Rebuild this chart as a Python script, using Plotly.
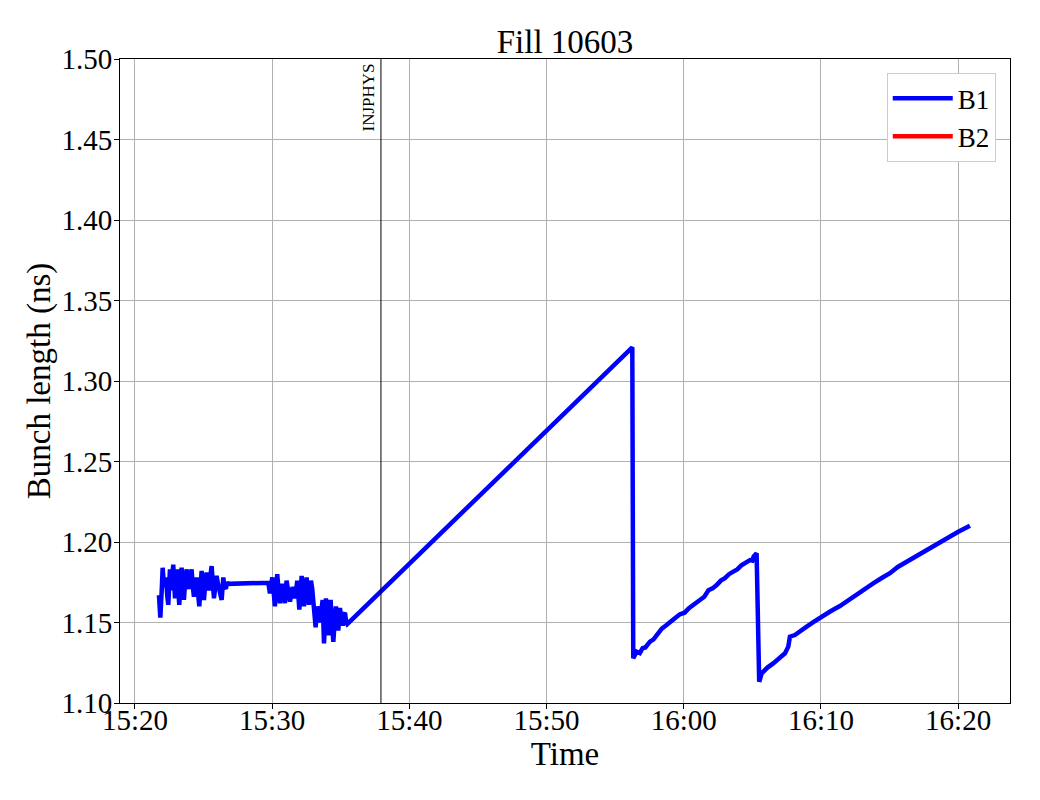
import pandas as pd
import plotly.graph_objects as go

# ---- data: minutes after 15:00 and bunch length (ns) ----
b1_minutes = [
    21.75, 21.85, 21.95, 22.02, 22.12, 22.26, 22.36, 22.43, 22.55, 22.66,
    22.79, 22.92, 23.00, 23.09, 23.16, 23.23, 23.40, 23.48, 23.57, 23.66,
    23.77, 23.86, 23.94, 24.03, 24.13, 24.22, 24.30, 24.40, 24.49, 24.60,
    24.69, 24.78, 24.86, 24.95, 25.03, 25.12, 25.22, 25.30, 25.39, 25.48,
    25.59, 25.68, 25.76, 25.85, 25.95, 26.05, 26.15, 26.25, 26.32, 26.44,
    26.53, 26.63, 26.72, 26.80,
    29.72, 29.84, 30.01, 30.10, 30.20, 30.30, 30.37, 30.47, 30.57, 30.66,
    30.76, 30.85, 30.93, 31.05, 31.18, 31.30, 31.40, 31.49, 31.58, 31.66,
    31.75, 31.83, 31.90, 31.98, 32.06, 32.15, 32.23, 32.32, 32.42, 32.51,
    32.60, 32.68, 32.76, 32.83, 32.92, 33.00, 33.08, 33.17, 33.29, 33.38,
    33.48, 33.58, 33.68, 33.78, 33.85, 33.92, 34.00, 34.09, 34.18, 34.26,
    34.36, 34.46, 34.55, 34.65, 34.74, 34.82, 34.94, 35.04, 35.14, 35.22,
    35.31, 35.40, 35.47,
    56.25, 56.32, 56.45, 56.56, 56.80, 57.00, 57.20, 57.54, 57.80, 58.10,
    58.40, 58.75, 59.10, 59.40, 59.70, 60.06, 60.40, 60.80, 61.18, 61.50,
    61.80, 62.10, 62.40, 62.70, 63.00, 63.30, 63.61, 63.90, 64.20, 64.50,
    64.83, 65.00, 65.10, 65.31,
    65.50, 65.68, 66.10, 66.52, 67.00, 67.38, 67.62, 67.74, 68.10, 68.50,
    68.96, 69.50, 70.05, 70.70, 71.38, 72.00, 72.60, 73.20, 73.81, 74.40,
    75.03, 75.60, 76.25, 76.90, 77.46, 78.00, 78.67, 79.30, 80.01, 80.86,
]
b1_length = [
    1.167, 1.153, 1.170, 1.184, 1.172, 1.178, 1.166, 1.161, 1.183, 1.170,
    1.186, 1.165, 1.176, 1.183, 1.170, 1.161, 1.184, 1.172, 1.164, 1.176,
    1.183, 1.173, 1.171, 1.178, 1.183, 1.172, 1.166, 1.174, 1.178, 1.168,
    1.160, 1.172, 1.182, 1.172, 1.164, 1.174, 1.181, 1.175, 1.170, 1.178,
    1.185, 1.174, 1.165, 1.172, 1.179, 1.174, 1.170, 1.166, 1.164, 1.178,
    1.172, 1.171, 1.175, 1.174,
    1.1747, 1.168, 1.178, 1.170, 1.160, 1.172, 1.180, 1.170, 1.162, 1.170,
    1.174, 1.168, 1.162, 1.176, 1.170, 1.163, 1.168, 1.172, 1.170, 1.165,
    1.170, 1.176, 1.168, 1.158, 1.168, 1.179, 1.170, 1.160, 1.170, 1.178,
    1.170, 1.161, 1.170, 1.176, 1.171, 1.165, 1.158, 1.147, 1.160, 1.153,
    1.150, 1.157, 1.164, 1.137, 1.150, 1.165, 1.155, 1.142, 1.155, 1.164,
    1.150, 1.138, 1.150, 1.160, 1.152, 1.145, 1.159, 1.152, 1.148, 1.155,
    1.156, 1.150, 1.149,
    1.3209, 1.1278, 1.1300, 1.1319, 1.1310, 1.1340, 1.1345, 1.1381, 1.1395, 1.1430,
    1.1462, 1.1484, 1.1512, 1.1530, 1.1550, 1.1561, 1.1590, 1.1615, 1.1640, 1.1660,
    1.1700, 1.1712, 1.1733, 1.1760, 1.1775, 1.1800, 1.1816, 1.1830, 1.1855, 1.1870,
    1.1888, 1.1885, 1.1910, 1.1930,
    1.1132, 1.1184, 1.1220, 1.1246, 1.1280, 1.1309, 1.1350, 1.1412, 1.1422, 1.1450,
    1.1474, 1.1505, 1.1536, 1.1570, 1.1602, 1.1640, 1.1671, 1.1708, 1.1743, 1.1775,
    1.1806, 1.1845, 1.1878, 1.1912, 1.1940, 1.1965, 1.2002, 1.2030, 1.2064, 1.2101,
]
# B2 has no data in this fill (legend entry only)
b2_minutes = [None]
b2_length = [None]

injphys_minute = 37.93
x_range_minutes = [18.91, 83.78]
y_range = [1.10, 1.50]
y_ticks = [1.10, 1.15, 1.20, 1.25, 1.30, 1.35, 1.40, 1.45, 1.50]

base = pd.Timestamp("2025-05-10 15:00:00")


def to_time(mins):
    return [None if m is None else base + pd.to_timedelta(m, unit="min") for m in mins]


FONT = "Liberation Serif, Times New Roman, serif"

fig = go.Figure()
fig.add_trace(go.Scatter(x=to_time(b1_minutes), y=b1_length, mode="lines",
                         name="B1", line=dict(color="#0000ff", width=4.5)))
fig.add_trace(go.Scatter(x=to_time(b2_minutes), y=b2_length, mode="lines",
                         name="B2", line=dict(color="#ff0000", width=4.5)))

inj_t = to_time([injphys_minute])[0]
fig.add_shape(type="line", x0=inj_t, x1=inj_t, xref="x", y0=0, y1=1, yref="paper",
              line=dict(color="black", width=1))
fig.add_annotation(x=inj_t, xref="x", y=1, yref="paper", text="INJPHYS",
                   textangle=-90, showarrow=False, xanchor="right", yanchor="top",
                   xshift=-1, yshift=-2,
                   font=dict(family=FONT, size=17, color="black"))

axis_common = dict(showline=True, mirror=True, linecolor="black", linewidth=1,
                   ticks="outside", ticklen=5, tickcolor="black",
                   showgrid=True, gridcolor="#b0b0b0", gridwidth=1, zeroline=False,
                   automargin=False,
                   tickfont=dict(family=FONT, size=29, color="black"))

# page body adds an 8px margin, so the figure is 1024x784 inside the 1040x800 window
fig.update_layout(
    width=1024, height=784,
    margin=dict(l=112, r=22, t=51, b=89, autoexpand=False),
    paper_bgcolor="white", plot_bgcolor="white",
    font=dict(family=FONT, color="black"),
    title=dict(text="Fill 10603", x=0.5, xref="paper", xanchor="center",
               y=1, yref="paper", yanchor="bottom", pad=dict(b=6),
               font=dict(family=FONT, size=33, color="black")),
    xaxis=dict(range=to_time(x_range_minutes), tickformat="%H:%M",
               dtick=600000, tick0=base, ticklabelstandoff=-14,
               title=dict(text="Time", font=dict(family=FONT, size=33), standoff=0),
               **axis_common),
    yaxis=dict(range=y_range, tickvals=y_ticks, tickformat=".2f",
               ticklabelstandoff=-4,
               title=dict(text="Bunch length (ns)", font=dict(family=FONT, size=33),
                          standoff=0),
               **axis_common),
    legend=dict(x=0.984, y=0.978, xanchor="right", yanchor="top",
                bgcolor="white", bordercolor="#cccccc", borderwidth=1,
                font=dict(family=FONT, size=27, color="black"),
                itemwidth=60, tracegroupgap=4),
    showlegend=True,
)

fig.write_html("out.html")
